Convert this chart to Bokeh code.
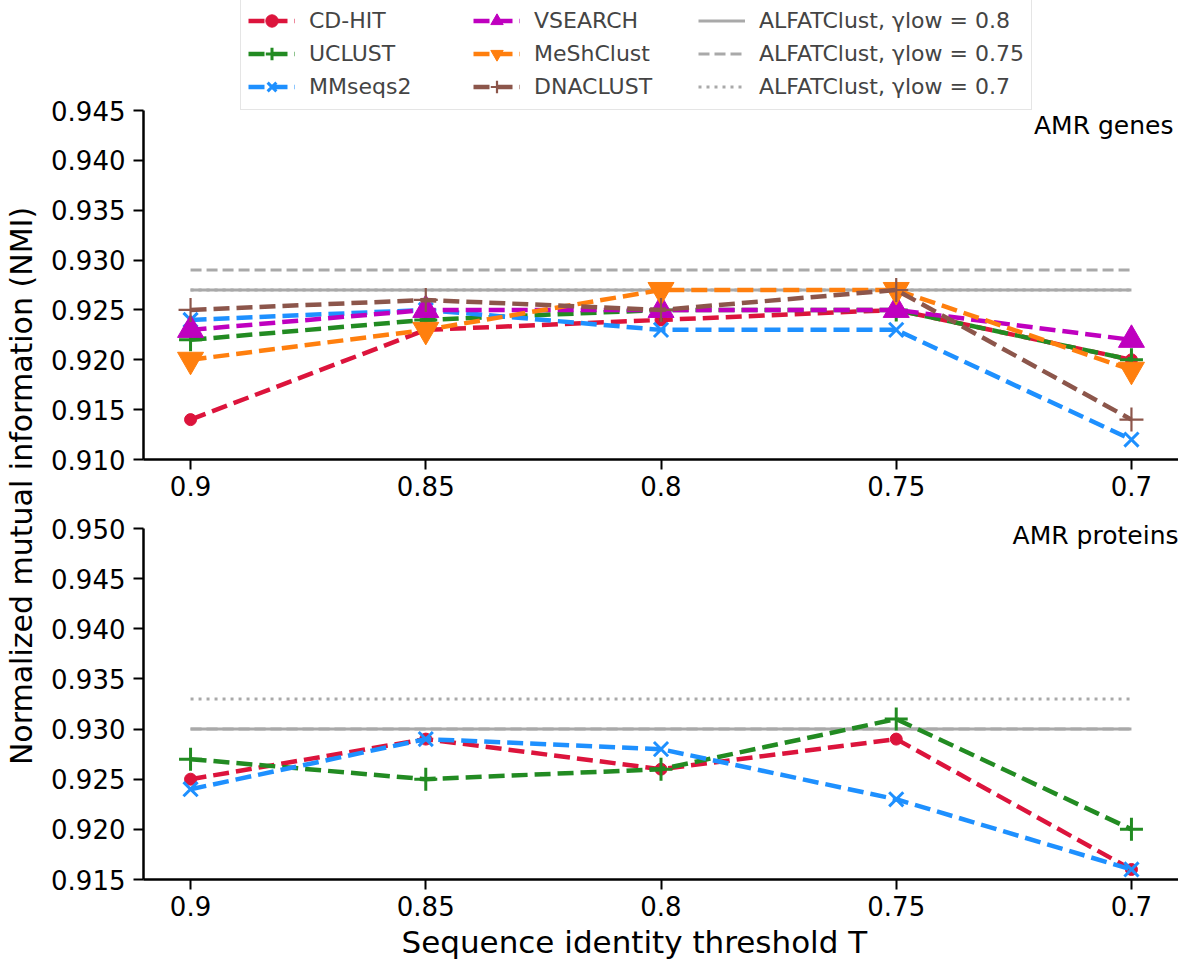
import math
from bokeh.plotting import figure
from bokeh.models import (Range1d, FixedTicker, PrintfTickFormatter, Legend,
                          LegendItem, Label, Title)
from bokeh.layouts import row, column
from bokeh.embed import file_html
from bokeh.resources import INLINE

# ---------------- data ----------------
thresholds = [0.9, 0.85, 0.8, 0.75, 0.7]
threshold_labels = ["0.9", "0.85", "0.8", "0.75", "0.7"]

# AMR genes (top panel)
genes_cdhit = [0.914, 0.923, 0.924, 0.925, 0.920]
genes_uclust = [0.922, 0.924, 0.925, 0.925, 0.920]
genes_mmseqs2 = [0.924, 0.925, 0.923, 0.923, 0.912]
genes_vsearch = [0.923, 0.925, 0.925, 0.925, 0.922]
genes_meshclust = [0.920, 0.923, 0.927, 0.927, 0.919]
genes_dnaclust = [0.925, 0.926, 0.925, 0.927, 0.914]
genes_alf_080 = [0.927, 0.927, 0.927, 0.927, 0.927]
genes_alf_075 = [0.929, 0.929, 0.929, 0.929, 0.929]
genes_alf_070 = [0.927, 0.927, 0.927, 0.927, 0.927]
genes_yticks = [0.910, 0.915, 0.920, 0.925, 0.930, 0.935, 0.940, 0.945]

# AMR proteins (bottom panel)
prot_cdhit = [0.925, 0.929, 0.926, 0.929, 0.916]
prot_uclust = [0.927, 0.925, 0.926, 0.931, 0.920]
prot_mmseqs2 = [0.924, 0.929, 0.928, 0.923, 0.916]
prot_alf_080 = [0.930, 0.930, 0.930, 0.930, 0.930]
prot_alf_075 = [0.930, 0.930, 0.930, 0.930, 0.930]
prot_alf_070 = [0.933, 0.933, 0.933, 0.933, 0.933]
prot_yticks = [0.915, 0.920, 0.925, 0.930, 0.935, 0.940, 0.945, 0.950]

FONT = "DejaVu Sans"

styles = {
    "CD-HIT": dict(color="#dc143c", marker="circle", size=12, mlw=1),
    "UCLUST": dict(color="#228b22", marker="cross", size=23, mlw=3),
    "MMseqs2": dict(color="#1e90ff", marker="x", size=20, mlw=3),
    "VSEARCH": dict(color="#bf00bf", marker="triangle", size=26, mlw=1),
    "MeShClust": dict(color="#ff7f0e", marker="inverted_triangle", size=26, mlw=1),
    "DNACLUST": dict(color="#8c564b", marker="cross", size=24, mlw=2.2),
}
alf_styles = [
    ("ALFATClust, γlow = 0.8", "solid"),
    ("ALFATClust, γlow = 0.75", "11 5"),
    ("ALFATClust, γlow = 0.7", "3 5"),
]
GREY = "#a9a9a9"

X_START, X_END = 0.91, 0.69

# layout (pixels)
TOP_H, TOP_AXIS_TOP, TOP_AXIS_BOTTOM = 510, 110, 459
BOT_H, BOT_AXIS_TOP, BOT_AXIS_BOTTOM = 461, 18, 369   # relative to bottom figure


def make_panel(height, yticks, axis_top, axis_bottom):
    lo, hi = yticks[0], yticks[-1]
    # the frame reaches the figure top; the axis itself is bounded to [lo, hi]
    y_end = hi + (hi - lo) * axis_top / (axis_bottom - axis_top)
    p = figure(width=1134, height=height,
               x_range=Range1d(X_START, X_END),
               y_range=Range1d(lo, y_end),
               output_backend="svg", toolbar_location=None,
               min_border_left=99, min_border_right=0,
               min_border_top=0, min_border_bottom=height - axis_bottom)
    p.outline_line_color = None
    p.grid.visible = False
    for ax in p.xaxis + p.yaxis:
        ax.axis_line_width = 2.5
        ax.axis_line_color = "black"
        ax.major_tick_line_width = 2
        ax.major_tick_line_color = "black"
        ax.major_tick_out = 10
        ax.major_tick_in = 0
        ax.minor_tick_out = 0
        ax.minor_tick_in = 0
        ax.major_label_text_font = FONT
        ax.major_label_text_font_size = "26px"
        ax.major_label_text_color = "black"
    p.xaxis.major_label_standoff = 6
    p.yaxis.major_label_standoff = 8
    p.xaxis.ticker = FixedTicker(ticks=thresholds)
    p.xaxis.major_label_overrides = {t: l for t, l in zip(thresholds, threshold_labels)}
    p.yaxis.ticker = FixedTicker(ticks=yticks)
    p.yaxis.formatter = PrintfTickFormatter(format="%.3f")
    p.yaxis.bounds = (lo, hi)
    return p


def add_series(p, name, ys):
    s = styles[name]
    r_line = p.line(thresholds, ys, line_color=s["color"], line_width=4.5,
                    line_dash="16 7")
    r_mark = p.scatter(thresholds, ys, marker=s["marker"], size=s["size"],
                       fill_color=s["color"], line_color=s["color"],
                       line_width=s["mlw"])
    return [r_line, r_mark]


def add_alf(p, ys, dash):
    return p.line(thresholds, ys, line_color=GREY, line_width=3, line_dash=dash)


# ---------------- top panel: AMR genes ----------------
top = make_panel(TOP_H, genes_yticks, TOP_AXIS_TOP, TOP_AXIS_BOTTOM)
alf_r = [add_alf(top, genes_alf_080, alf_styles[0][1]),
         add_alf(top, genes_alf_075, alf_styles[1][1]),
         add_alf(top, genes_alf_070, alf_styles[2][1])]
series_r = {}
for name, ys in [("CD-HIT", genes_cdhit), ("UCLUST", genes_uclust),
                 ("MMseqs2", genes_mmseqs2), ("VSEARCH", genes_vsearch),
                 ("MeShClust", genes_meshclust), ("DNACLUST", genes_dnaclust)]:
    series_r[name] = add_series(top, name, ys)

top.add_layout(Label(x=X_END, y=genes_yticks[-1], text="AMR genes",
                     text_align="right", text_baseline="top", x_offset=-5,
                     text_font=FONT, text_font_size="25px", text_color="black"))

items = [LegendItem(label=n, renderers=series_r[n]) for n in
         ["CD-HIT", "UCLUST", "MMseqs2", "VSEARCH", "MeShClust", "DNACLUST"]]
items += [LegendItem(label=lab, renderers=[r]) for (lab, _), r in zip(alf_styles, alf_r)]

legend = Legend(items=items, location=(97, TOP_AXIS_BOTTOM - TOP_AXIS_TOP), ncols=3,
                label_text_font=FONT, label_text_font_size="22px",
                glyph_width=47, glyph_height=31, label_standoff=14,
                label_width=162, spacing=2, padding=7, margin=0,
                border_line_color="#cccccc", border_line_width=1.5,
                background_fill_alpha=0.8)
top.add_layout(legend)

# ---------------- bottom panel: AMR proteins ----------------
bot = make_panel(BOT_H, prot_yticks, BOT_AXIS_TOP, BOT_AXIS_BOTTOM)
add_alf(bot, prot_alf_080, alf_styles[0][1])
add_alf(bot, prot_alf_075, alf_styles[1][1])
add_alf(bot, prot_alf_070, alf_styles[2][1])
for name, ys in [("CD-HIT", prot_cdhit), ("UCLUST", prot_uclust),
                 ("MMseqs2", prot_mmseqs2)]:
    add_series(bot, name, ys)
bot.add_layout(Label(x=X_END, y=prot_yticks[-1], text="AMR proteins",
                     text_align="right", text_baseline="top", y_offset=8,
                     text_font=FONT, text_font_size="25px", text_color="black"))
bot.add_layout(Title(text="Sequence identity threshold T", align="left",
                     offset=258, standoff=6, text_font=FONT,
                     text_font_size="31px", text_font_style="normal",
                     text_color="black"), "below")

# ---------------- shared y label ----------------
ylab = figure(width=44, height=971, x_range=Range1d(0, 1), y_range=Range1d(0, 1),
              output_backend="svg", toolbar_location=None, min_border=0,
              x_axis_location=None, y_axis_location="left")
ylab.outline_line_color = None
ylab.grid.visible = False
ylab.yaxis.ticker = FixedTicker(ticks=[])
ylab.yaxis.axis_line_color = None
ylab.yaxis.major_tick_out = 0
ylab.yaxis.minor_tick_out = 0
ylab.yaxis.major_label_standoff = 0
ylab.yaxis.axis_label = "Normalized mutual information (NMI)"
ylab.yaxis.axis_label_text_font = FONT
ylab.yaxis.axis_label_text_font_size = "30px"
ylab.yaxis.axis_label_text_font_style = "normal"
ylab.yaxis.axis_label_text_color = "black"
ylab.yaxis.axis_label_standoff = 0

layout = row(ylab, column(top, bot))
open("out.html", "w").write(file_html(layout, INLINE))
